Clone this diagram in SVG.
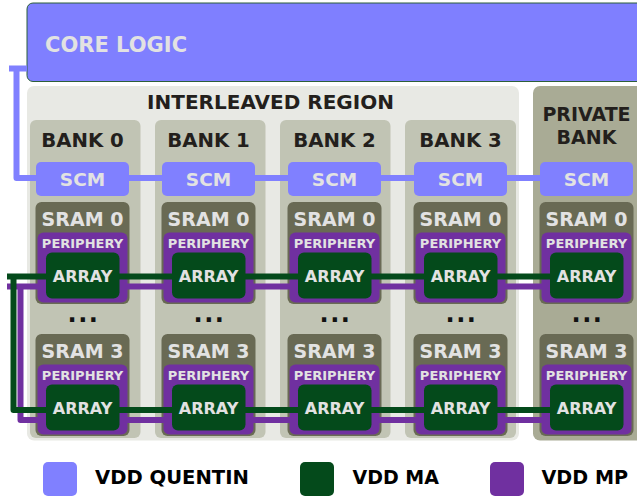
<svg xmlns="http://www.w3.org/2000/svg" width="637" height="499" viewBox="0 0 637 499">
<style>
text{font-family:"DejaVu Sans","Liberation Sans",sans-serif;font-weight:bold;text-anchor:middle}
.dark{fill:#231f1c}
.lt{fill:#e2e2e2}
.title{font-size:20px}
.bt{font-size:19.7px}
.scm{fill:#8080ff}
.sram{fill:#696a54}
.peri{fill:#7030a0}
.arr{fill:#044a1b}
.bank{fill:#c1c4b4}
.wire{fill:none;stroke-width:6;stroke-linejoin:round}
.st{font-size:19px}
.pt{font-size:13px}
.at{font-size:16px}
.ct{font-size:18.5px}
.leg{fill:#000;text-anchor:start}
</style>
<rect width="637" height="499" fill="#ffffff"/>
<g id="core-logic">
<rect x="27" y="3" width="640" height="78.5" rx="6" fill="#7f7fff" stroke="#2d5f3a" stroke-width="1"/>
<text x="45" y="52" class="lt" style="text-anchor:start" font-size="21">CORE LOGIC</text>
</g>
<g id="interleaved-region">
<rect x="27" y="86" width="492" height="354.5" rx="7" fill="#e8e9e4"/>
<text x="270.5" y="109" class="dark title">INTERLEAVED REGION</text>
</g>
<g id="private-bank">
<rect x="533" y="86" width="120" height="354.5" rx="7" fill="#a9ab95"/>
<text x="586.5" y="121" class="dark" font-size="19">PRIVATE</text>
<text x="586.5" y="143.5" class="dark" font-size="19">BANK</text>
</g>
<g id="bank-0"><rect x="30" y="120" width="110.5" height="318" rx="6" class="bank"/><text x="82.5" y="147.3" class="dark bt">BANK 0</text></g>
<g id="bank-1"><rect x="155" y="120" width="110.5" height="318" rx="6" class="bank"/><text x="208.5" y="147.3" class="dark bt">BANK 1</text></g>
<g id="bank-2"><rect x="280" y="120" width="110.5" height="318" rx="6" class="bank"/><text x="334.5" y="147.3" class="dark bt">BANK 2</text></g>
<g id="bank-3"><rect x="405" y="120" width="111" height="318" rx="6" class="bank"/><text x="460.5" y="147.3" class="dark bt">BANK 3</text></g>

<g id="sram0-col0"><rect x="35.5" y="202" width="94" height="102" rx="6" class="sram"/><text x="82.5" y="226" class="lt st">SRAM 0</text><rect x="37.5" y="232.5" width="90" height="70" rx="6" class="peri"/><text x="82.5" y="248" class="lt pt">PERIPHERY</text></g>
<g id="sram0-col1"><rect x="161.5" y="202" width="94" height="102" rx="6" class="sram"/><text x="208.5" y="226" class="lt st">SRAM 0</text><rect x="163.5" y="232.5" width="90" height="70" rx="6" class="peri"/><text x="208.5" y="248" class="lt pt">PERIPHERY</text></g>
<g id="sram0-col2"><rect x="287.5" y="202" width="94" height="102" rx="6" class="sram"/><text x="334.5" y="226" class="lt st">SRAM 0</text><rect x="289.5" y="232.5" width="90" height="70" rx="6" class="peri"/><text x="334.5" y="248" class="lt pt">PERIPHERY</text></g>
<g id="sram0-col3"><rect x="413.5" y="202" width="94" height="102" rx="6" class="sram"/><text x="460.5" y="226" class="lt st">SRAM 0</text><rect x="415.5" y="232.5" width="90" height="70" rx="6" class="peri"/><text x="460.5" y="248" class="lt pt">PERIPHERY</text></g>
<g id="sram0-priv"><rect x="539.5" y="202" width="94" height="102" rx="6" class="sram"/><text x="586.5" y="226" class="lt st">SRAM 0</text><rect x="541.5" y="232.5" width="90" height="70" rx="6" class="peri"/><text x="586.5" y="248" class="lt pt">PERIPHERY</text></g>

<g id="sram3-col0"><rect x="35.5" y="334" width="94" height="102" rx="6" class="sram"/><text x="82.5" y="358" class="lt st">SRAM 3</text><rect x="37.5" y="364.5" width="90" height="70" rx="6" class="peri"/><text x="82.5" y="380" class="lt pt">PERIPHERY</text></g>
<g id="sram3-col1"><rect x="161.5" y="334" width="94" height="102" rx="6" class="sram"/><text x="208.5" y="358" class="lt st">SRAM 3</text><rect x="163.5" y="364.5" width="90" height="70" rx="6" class="peri"/><text x="208.5" y="380" class="lt pt">PERIPHERY</text></g>
<g id="sram3-col2"><rect x="287.5" y="334" width="94" height="102" rx="6" class="sram"/><text x="334.5" y="358" class="lt st">SRAM 3</text><rect x="289.5" y="364.5" width="90" height="70" rx="6" class="peri"/><text x="334.5" y="380" class="lt pt">PERIPHERY</text></g>
<g id="sram3-col3"><rect x="413.5" y="334" width="94" height="102" rx="6" class="sram"/><text x="460.5" y="358" class="lt st">SRAM 3</text><rect x="415.5" y="364.5" width="90" height="70" rx="6" class="peri"/><text x="460.5" y="380" class="lt pt">PERIPHERY</text></g>
<g id="sram3-priv"><rect x="539.5" y="334" width="94" height="102" rx="6" class="sram"/><text x="586.5" y="358" class="lt st">SRAM 3</text><rect x="541.5" y="364.5" width="90" height="70" rx="6" class="peri"/><text x="586.5" y="380" class="lt pt">PERIPHERY</text></g>

<g id="ellipses" font-size="24" letter-spacing="1.6" fill="#111111">
<text x="83.5" y="322">...</text>
<text x="209.5" y="322">...</text>
<text x="335.5" y="322">...</text>
<text x="461.5" y="322">...</text>
<text x="587.5" y="322">...</text>
</g>

<g id="connectors">
<path class="wire" stroke="#8080ff" stroke-width="5" d="M9,68.5 H27 M16.5,68.5 V178 H590"/>
<path class="wire" stroke="#7030a0" d="M7,286.5 H590 M20.5,286.5 V420 H590"/>
<path class="wire" stroke="#044a1b" d="M7,276.5 H590 M13.5,276.5 V410 H590"/>
</g>

<g id="scm-0"><rect x="36" y="162" width="93" height="34" rx="5" class="scm"/><text x="82.5" y="186" class="lt ct">SCM</text></g>
<g id="scm-1"><rect x="162" y="162" width="93" height="34" rx="5" class="scm"/><text x="208.5" y="186" class="lt ct">SCM</text></g>
<g id="scm-2"><rect x="288" y="162" width="93" height="34" rx="5" class="scm"/><text x="334.5" y="186" class="lt ct">SCM</text></g>
<g id="scm-3"><rect x="414" y="162" width="93" height="34" rx="5" class="scm"/><text x="460.5" y="186" class="lt ct">SCM</text></g>
<g id="scm-priv"><rect x="540" y="162" width="93" height="34" rx="5" class="scm"/><text x="586.5" y="186" class="lt ct">SCM</text></g>

<g id="array0-col0"><rect x="46" y="252.5" width="73.5" height="46" rx="6" class="arr"/><text x="82.5" y="281.5" class="lt at">ARRAY</text></g>
<g id="array0-col1"><rect x="172" y="252.5" width="73.5" height="46" rx="6" class="arr"/><text x="208.5" y="281.5" class="lt at">ARRAY</text></g>
<g id="array0-col2"><rect x="298" y="252.5" width="73.5" height="46" rx="6" class="arr"/><text x="334.5" y="281.5" class="lt at">ARRAY</text></g>
<g id="array0-col3"><rect x="424" y="252.5" width="73.5" height="46" rx="6" class="arr"/><text x="460.5" y="281.5" class="lt at">ARRAY</text></g>
<g id="array0-priv"><rect x="550" y="252.5" width="73.5" height="46" rx="6" class="arr"/><text x="586.5" y="281.5" class="lt at">ARRAY</text></g>

<g id="array3-col0"><rect x="46" y="384.5" width="73.5" height="46" rx="6" class="arr"/><text x="82.5" y="413.5" class="lt at">ARRAY</text></g>
<g id="array3-col1"><rect x="172" y="384.5" width="73.5" height="46" rx="6" class="arr"/><text x="208.5" y="413.5" class="lt at">ARRAY</text></g>
<g id="array3-col2"><rect x="298" y="384.5" width="73.5" height="46" rx="6" class="arr"/><text x="334.5" y="413.5" class="lt at">ARRAY</text></g>
<g id="array3-col3"><rect x="424" y="384.5" width="73.5" height="46" rx="6" class="arr"/><text x="460.5" y="413.5" class="lt at">ARRAY</text></g>
<g id="array3-priv"><rect x="550" y="384.5" width="73.5" height="46" rx="6" class="arr"/><text x="586.5" y="413.5" class="lt at">ARRAY</text></g>

<g id="legend-quentin"><rect x="43" y="462" width="34" height="34" rx="5" fill="#8080ff"/><text x="95" y="484" font-size="19.6" class="leg">VDD QUENTIN</text></g>
<g id="legend-ma"><rect x="300" y="462" width="34" height="34" rx="5" fill="#044a1b"/><text x="352.5" y="484" font-size="19" class="leg">VDD MA</text></g>
<g id="legend-mp"><rect x="490" y="462" width="34" height="34" rx="5" fill="#7030a0"/><text x="541.5" y="484" font-size="19.2" class="leg">VDD MP</text></g>
</svg>
